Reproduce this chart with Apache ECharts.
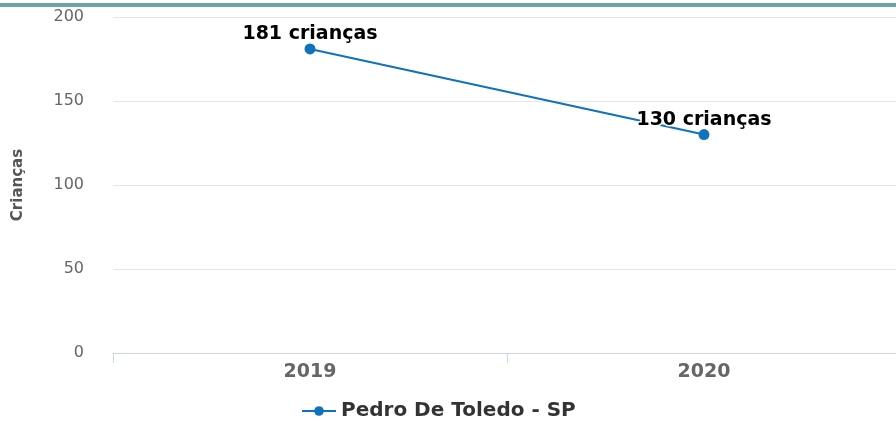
<!DOCTYPE html>
<html>
<head>
<meta charset="utf-8">
<script src="https://cdn.jsdelivr.net/npm/echarts@6/dist/echarts.min.js"></script>
<style>
  html, body { margin: 0; padding: 0; background: #fff; overflow: hidden; }
  #wrap { width: 896px; height: 421px; overflow: hidden; }
  #chart { width: 920px; height: 421px; }
</style>
</head>
<body>
<div id="wrap"><div id="chart"></div></div>
<script>
// chart values
var years = ['2019', '2020'];
var criancas = [181, 130];
var seriesName = 'Pedro De Toledo - SP';
var yTicks = [0, 50, 100, 150, 200];

var font = 'DejaVu Sans';
var chart = echarts.init(document.getElementById('chart'));
chart.setOption({
  animation: false,
  textStyle: { fontFamily: font },
  graphic: [{
    type: 'rect',
    shape: { x: 0, y: 3, width: 920, height: 4 },
    style: { fill: '#6aa5a2' }
  }],
  grid: { left: 113, width: 788, top: 17, bottom: 68 },
  legend: {
    bottom: -5,
    left: 296,
    itemWidth: 34,
    itemHeight: 12,
    itemGap: 6,
    textStyle: { fontSize: 20, fontWeight: 'bold', color: '#333', fontFamily: font },
    data: [seriesName]
  },
  xAxis: {
    type: 'category',
    data: years,
    boundaryGap: true,
    axisLine: { lineStyle: { color: '#ccd6eb', width: 1 } },
    axisTick: { show: true, length: 10, lineStyle: { color: '#ccd6eb' } },
    axisLabel: { fontSize: 19, fontWeight: 'bold', color: '#666', margin: 10 }
  },
  yAxis: {
    type: 'value',
    min: yTicks[0],
    max: yTicks[yTicks.length - 1],
    interval: 50,
    name: 'Crianças',
    nameLocation: 'middle',
    nameGap: 87,
    nameRotate: 90,
    nameTextStyle: { fontSize: 15, fontWeight: 'bold', color: '#555', fontFamily: font },
    axisLine: { show: false },
    axisTick: { show: false },
    axisLabel: { fontSize: 16, color: '#666', margin: 29 },
    splitLine: { lineStyle: { color: '#e6e6e6' } }
  },
  series: [{
    name: seriesName,
    type: 'line',
    data: criancas,
    symbol: 'circle',
    symbolSize: 11,
    itemStyle: { color: '#1072bd' },
    lineStyle: { color: '#1072bd', width: 2 },
    label: {
      show: true,
      position: 'top',
      distance: 0,
      formatter: function (p) { return p.value + ' crianças'; },
      fontSize: 19,
      fontWeight: 'bold',
      color: '#000',
      fontFamily: font,
      textBorderColor: '#fff',
      textBorderWidth: 3
    }
  }]
});
</script>
</body>
</html>
